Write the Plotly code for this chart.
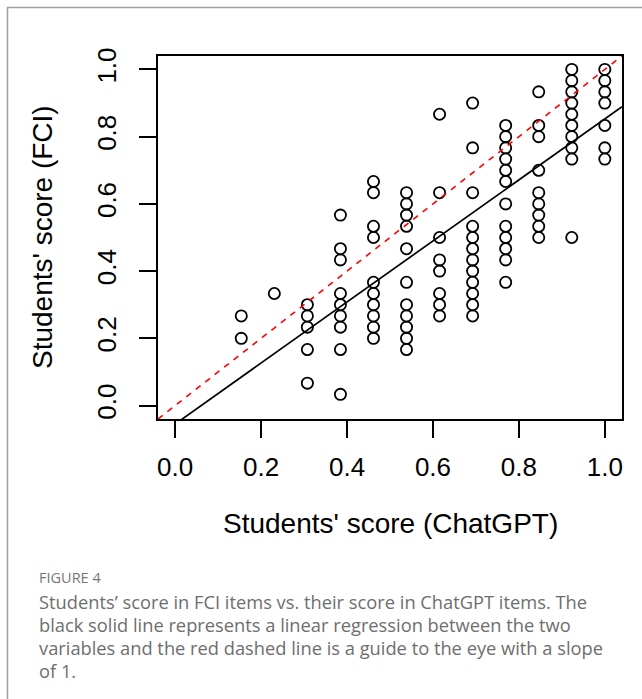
import plotly.graph_objects as go

# ---- data ----
# x: ChatGPT score = k/13 ; y: FCI score = n/30
chatgpt_k = [2, 3, 4, 5, 6, 7, 8, 9, 10, 11, 12, 13]
fci_n = [
    [8, 6],
    [10],
    [9, 8, 7, 5, 2],
    [17, 14, 13, 10, 9, 8, 7, 5, 1],
    [20, 19, 16, 15, 11, 10, 9, 8, 7, 6],
    [19, 18, 17, 16, 14, 11, 9, 8, 7, 6, 5],
    [26, 19, 15, 13, 12, 10, 9, 8],
    [27, 23, 19, 16, 15, 14, 13, 12, 11, 10, 9, 8],
    [25, 24, 23, 22, 21, 20, 18, 16, 15, 14, 13, 11],
    [28, 25, 24, 21, 19, 18, 17, 16, 15],
    [30, 29, 28, 27, 26, 25, 24, 23, 22, 15],
    [30, 29, 28, 27, 25, 23, 22],
]
N_CHATGPT_ITEMS = 13
N_FCI_ITEMS = 30

# regression line
REG_SLOPE = 0.908
REG_INTERCEPT = -0.055

tick_vals = [0.0, 0.2, 0.4, 0.6, 0.8, 1.0]
tick_text = ["0.0", "0.2", "0.4", "0.6", "0.8", "1.0"]
axis_range = [-0.04, 1.04]

x_title = "Students' score (ChatGPT)"
y_title = "Students' score (FCI)"
fig_label = "FIGURE 4"
caption_lines = [
    "Students\u2019 score in FCI items vs. their score in ChatGPT items. The",
    "black solid line represents a linear regression between the two",
    "variables and the red dashed line is a guide to the eye with a slope",
    "of 1.",
]

xs, ys = [], []
for k, col in zip(chatgpt_k, fci_n):
    for n in col:
        xs.append(k / N_CHATGPT_ITEMS)
        ys.append(n / N_FCI_ITEMS)

W, H = 642, 699
ML, MR, MT, MB = 158, 20, 56, 280
PW = W - ML - MR
PH = H - MT - MB


def px_x(px):
    return (px - ML) / PW


def px_y(py):
    return (H - MB - py) / PH


fig = go.Figure()

fig.add_trace(go.Scatter(
    x=xs, y=ys, mode="markers",
    marker=dict(symbol="circle-open", size=11.2, color="black",
                line=dict(width=1.8, color="black")),
    showlegend=False, hoverinfo="x+y",
))

# red dashed y = x guide
fig.add_trace(go.Scatter(
    x=axis_range, y=axis_range, mode="lines",
    line=dict(color="#ff0000", width=1.6, dash="6px,6px"),
    showlegend=False, hoverinfo="skip",
))

# regression line
reg_x = [axis_range[0], axis_range[1]]
reg_y = [REG_INTERCEPT + REG_SLOPE * v for v in reg_x]
fig.add_trace(go.Scatter(
    x=reg_x, y=reg_y, mode="lines",
    line=dict(color="black", width=1.7),
    showlegend=False, hoverinfo="skip",
))

axis_common = dict(
    range=axis_range, tickvals=tick_vals, ticktext=tick_text,
    showgrid=False, zeroline=False, showline=True, mirror=True,
    linecolor="black", linewidth=1.7,
    ticks="outside", ticklen=17, tickwidth=1.7, tickcolor="black",
    tickfont=dict(family="Liberation Sans, Arial, sans-serif", size=26, color="black"),
)

fig.update_xaxes(**axis_common, ticklabelstandoff=7)
fig.update_yaxes(**axis_common, tickangle=-90, ticklabelstandoff=13)

annotations = [
    dict(text=x_title, xref="paper", yref="paper", x=px_x(390), y=px_y(523),
         xanchor="center", yanchor="middle", showarrow=False,
         font=dict(family="Liberation Sans, Arial, sans-serif", size=28, color="black")),
    dict(text=y_title, xref="paper", yref="paper", x=px_x(42), y=px_y(237),
         xanchor="center", yanchor="middle", showarrow=False, textangle=-90,
         font=dict(family="Liberation Sans, Arial, sans-serif", size=28, color="black")),
    dict(text=fig_label, xref="paper", yref="paper", x=px_x(37), y=px_y(577),
         xanchor="left", yanchor="middle", showarrow=False,
         font=dict(family="Open Sans, sans-serif", size=14.5, color="#777777")),
]
line_y = [601, 624, 647, 670]
for txt, yy in zip(caption_lines, line_y):
    annotations.append(dict(
        text=txt, xref="paper", yref="paper", x=px_x(37), y=px_y(yy),
        xanchor="left", yanchor="middle", showarrow=False,
        font=dict(family="Open Sans, sans-serif", size=18.3, color="#6e6e6e")))

shapes = [
    dict(type="path", xref="paper", yref="paper",
         path=f"M {px_x(7.5)} {px_y(H + 5)} L {px_x(7.5)} {px_y(7.5)} L {px_x(W + 5)} {px_y(7.5)}",
         line=dict(color="#a0a0a0", width=1.5), layer="below"),
]

fig.update_layout(
    width=W, height=H,
    margin=dict(l=ML, r=MR, t=MT, b=MB),
    paper_bgcolor="white", plot_bgcolor="white",
    annotations=annotations, shapes=shapes,
    showlegend=False,
)

fig.write_html("out.html", config={"displayModeBar": False},
               post_script="document.body.style.margin='0';")
